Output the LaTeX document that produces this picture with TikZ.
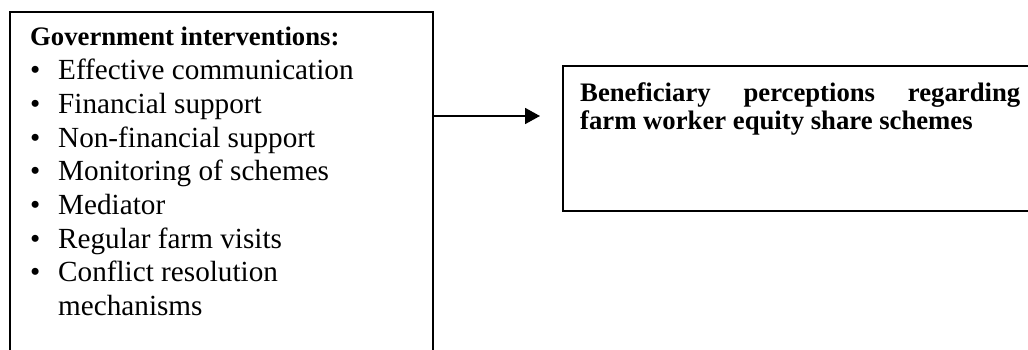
\documentclass[tikz,border=0pt]{standalone}
\usepackage{fontspec}
\setmainfont{Liberation Serif}
\usetikzlibrary{arrows.meta}
\hyphenpenalty=10000
\tolerance=10000
\hbadness=10000
\begin{document}
\begin{tikzpicture}[x=1pt,y=-1pt,
  frame/.style={draw=black, line width=1.8pt, inner sep=0pt, anchor=north west},
  itemtext/.style={anchor=base west, inner sep=0pt, font=\fontsize{29.2}{33.6}\selectfont},
  headtext/.style={anchor=base west, inner sep=0pt, font=\bfseries\fontsize{26.7}{28}\selectfont},
  link/.style={line width=1.8pt, -{Triangle[length=15pt,width=16pt]}}]
\useasboundingbox (0,0) rectangle (1028,350);
\clip (0,0) rectangle (1028,350);

% boxes
\node[frame, minimum width=423pt, minimum height=370pt] (gov) at (9,11) {};
\node[frame, minimum width=480pt, minimum height=145pt] (ben) at (562,65) {};

% government interventions list
\node[headtext] (govtitle) at (30,46) {Government interventions:};
\foreach \i/\y/\t in {1/80/Effective communication,
                      2/113.6/Financial support,
                      3/147.2/Non-financial support,
                      4/180.8/Monitoring of schemes,
                      5/214.4/Mediator,
                      6/248/Regular farm visits,
                      7/281.6/Conflict resolution}{
  \node[itemtext] (bullet\i) at (30,\y) {\textbullet};
  \node[itemtext] (item\i) at (58,\y) {\t};
}
\node[itemtext] (item7b) at (58,315.2) {mechanisms};

% beneficiary perceptions
\node[headtext, text width=440pt, align=justify] (bentext) at (580,102)
  {Beneficiary perceptions regarding farm worker equity share schemes};

% connector
\coordinate (tip) at (540,116);
\draw[link] (gov.east |- tip) -- (tip);
\end{tikzpicture}
\end{document}
